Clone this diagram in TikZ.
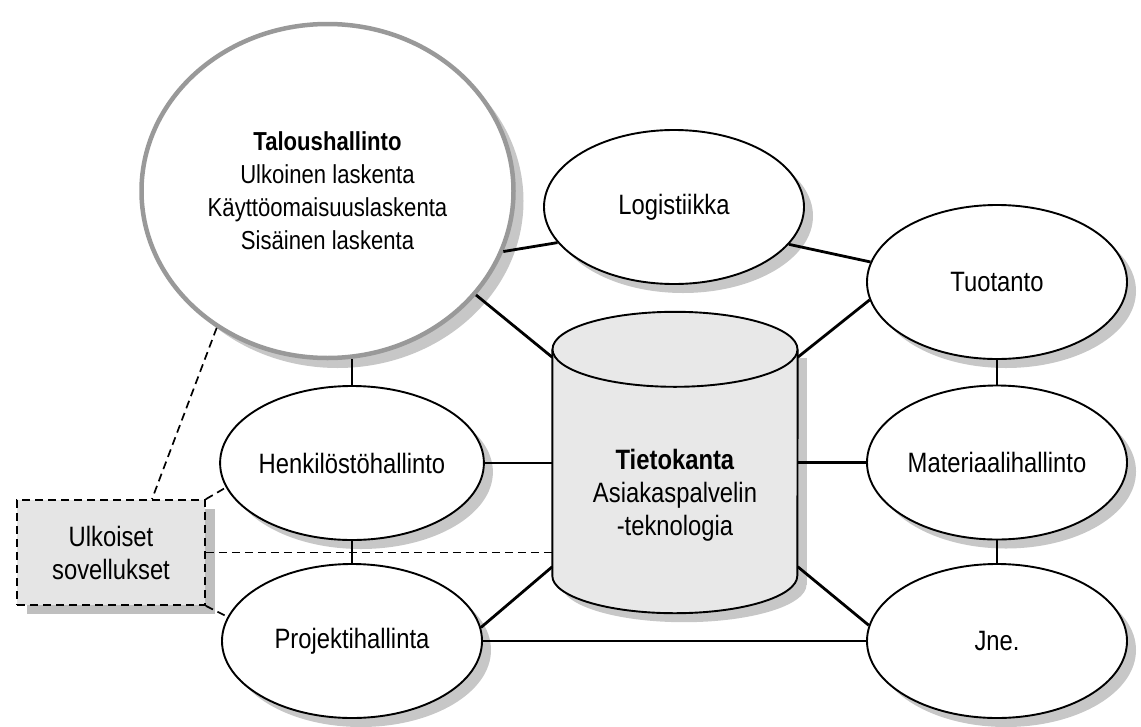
\documentclass[tikz,border=0pt]{standalone}
\usepackage{fontspec}
\setmainfont{Liberation Sans}[FakeStretch=0.85]
\usetikzlibrary{shapes.geometric,shadows}
\begin{document}
\begin{tikzpicture}[x=1pt,y=1pt,
  shad/.style={drop shadow={shadow xshift=9pt,shadow yshift=-9pt,fill=black!22,opacity=1}},
  ell/.style={ellipse,draw,line width=1.9pt,fill=white,minimum width=260,minimum height=154,
    inner sep=0,font=\fontsize{28}{33}\selectfont,shad},
  conn/.style={line width=2.8pt},
  dconn/.style={line width=1.7pt,dash pattern=on 8pt off 5pt},
  cylfill/.style={fill=black!9},
  cylline/.style={line width=1.9pt}]
\useasboundingbox (0,0) rectangle (1141,-726);

% big circle
\node[ellipse,draw=black!40,line width=4.5pt,fill=white,minimum width=372,minimum height=334,
  inner sep=0,align=center,font=\fontsize{26}{33}\selectfont,
  drop shadow={shadow xshift=10pt,shadow yshift=-10pt,fill=black!22,opacity=1}]
  (big) at (327.5,-191) {\textbf{Taloushallinto}\\Ulkoinen laskenta\\Käyttöomaisuuslaskenta\\Sisäinen laskenta};

% ellipses
\node[ell] (logi) at (674,-207) {Logistiikka};
\node[ell] (tuo)  at (997,-282) {Tuotanto};
\node[ell] (mat)  at (997,-462.5) {Materiaalihallinto};
\node[ell] (jne)  at (997,-641) {Jne.};
\node[ell] (henk) at (352,-463) {Henkilöstöhallinto};
\node[ell] (proj) at (352,-641) {Projektihallinta};

% cylinder
\node[minimum width=245,minimum height=226,inner sep=0] (cyl) at (675,-462.5) {};
\fill[black!22] ([xshift=9,yshift=-9]cyl.north west) rectangle ([xshift=9,yshift=-9]cyl.south east);
\fill[black!22] ([xshift=9,yshift=-9]cyl.south) ellipse[x radius=122.5,y radius=37.5];
\fill[cylfill] (cyl.north west) rectangle (cyl.south east);
\fill[cylfill] (cyl.south) ellipse[x radius=122.5,y radius=37.5];
\draw[cylline] (cyl.north west) -- (cyl.south west)
  arc[start angle=180,end angle=360,x radius=122.5,y radius=37.5] -- (cyl.north east);
\filldraw[cylfill,cylline] (cyl.north) ellipse[x radius=122.5,y radius=37.5];
\node[align=center,font=\fontsize{28}{33}\selectfont] (cyltext) at ([yshift=-33]cyl.center)
  {\textbf{Tietokanta}\\Asiakaspalvelin\\-teknologia};

% external box
\node[draw,dconn,fill=black!10,minimum width=188,minimum height=105,inner sep=0,align=center,
  font=\fontsize{28}{33}\selectfont,
  drop shadow={shadow xshift=10pt,shadow yshift=-9pt,fill=black!25,opacity=1}]
  (box) at (111,-552.5) {Ulkoiset\\sovellukset};

% solid connectors
\draw[conn] (big.-19.9) -- (logi.197.7);
\draw[conn] (logi.-18) -- (tuo.171);
\draw[conn] (big.-35.6) -- ([yshift=-8]cyl.north west);
\draw[conn] ([yshift=-8]cyl.north east) -- (tuo.188);
\draw[conn] (henk.north) -- (henk.north |- big.-81.7);
\draw[conn] (henk.south) -- (proj.north);
\draw[conn] (henk.east) -- (henk.east -| cyl.west);
\draw[conn] (proj.6) -- ([yshift=9]cyl.south west);
\draw[conn] (proj.east) -- (jne.west);
\draw[conn] ([yshift=9]cyl.south east) -- (jne.173);
\draw[conn] (mat.west) -- (mat.west -| cyl.east);
\draw[conn] (tuo.south) -- (mat.north);
\draw[conn] (mat.south) -- (jne.north);

% dashed connectors
\draw[dconn] (big.231) -- ([xshift=41]box.north);
\draw[dconn] (box.north east) -- (henk.191);
\draw[dconn] (box.east) -- (box.east -| cyl.west);
\draw[dconn] (box.south east) -- (proj.169);
\end{tikzpicture}
\end{document}
